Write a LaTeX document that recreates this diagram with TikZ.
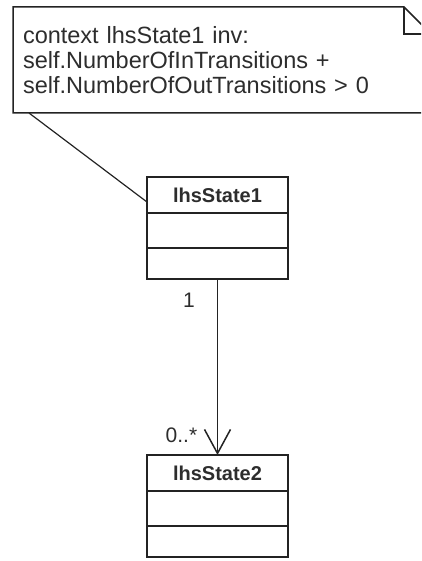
\documentclass[tikz,border=0pt]{standalone}
\usepackage{fontspec}
\setmainfont{Liberation Sans}
\usetikzlibrary{arrows.meta, positioning, calc}
\definecolor{umlline}{RGB}{35,35,35}
\definecolor{umltext}{RGB}{45,45,45}

\begin{document}
\begin{tikzpicture}[x=1pt, y=-1pt,
  CL/.style={draw=umlline, line width=1.5pt, minimum width=141pt, minimum height=36pt,
             inner sep=0pt, outer sep=0pt, text=umltext, font=\fontsize{20}{24}\selectfont\bfseries},
  CP/.style={draw=umlline, line width=1.5pt, minimum width=141pt, minimum height=#1,
             inner sep=0pt, outer sep=0pt},
  NT/.style={minimum width=418pt, minimum height=106pt, inner xsep=10pt, inner ysep=4pt,
             outer sep=0pt, text width=398pt, align=left, text=umltext,
             font=\fontsize{23.5}{25}\selectfont},
  ML/.style={inner sep=0pt, text=umltext, font=\fontsize{21}{24}\selectfont},
  AS/.style={umlline, line width=1.5pt, -{Straight Barb[length=24pt, width=26pt, line width=1.5pt]}},
  NB/.style={umlline, line width=1.5pt},
  LK/.style={umlline, line width=1.2pt},
  node distance=0pt
]
  \useasboundingbox (0,0) rectangle (421,561);
  \clip (0,0) rectangle (421,561);

  % note
  \node[NT, anchor=north west] (note) at (13,7)
    {context lhsState1 inv:\\ self.NumberOfInTransitions +\\ self.NumberOfOutTransitions > 0};
  \draw[NB] (note.south west) -- (note.north west) -- ($(note.north east)+(-27,0)$)
    -- ($(note.north east)+(0,27)$) -- (note.south east) -- cycle;
  \draw[NB] ($(note.north east)+(-27,0)$) |- ($(note.north east)+(0,27)$);

  % classes
  \node[CL] (cls1) at (217.5,195) {lhsState1};
  \node[CP=35pt, below=of cls1] (cls1a) {};
  \node[CP=31pt, below=of cls1a] (cls1b) {};

  \node[CL] (cls2) at (217.5,473) {lhsState2};
  \node[CP=35pt, below=of cls2] (cls2a) {};
  \node[CP=31pt, below=of cls2a] (cls2b) {};

  % links
  \coordinate (nl) at ($(note.south west)+(16,0)$);
  \draw[LK] (nl) -- ($(cls1.west)+(0,7)$);
  \draw[AS] (cls1b) -- (cls2)
    node[ML, pos=0.12, left=22pt] (m1) {1}
    node[ML, pos=0.886, left=19.5pt] (m2) {0..*};
\end{tikzpicture}
\end{document}
